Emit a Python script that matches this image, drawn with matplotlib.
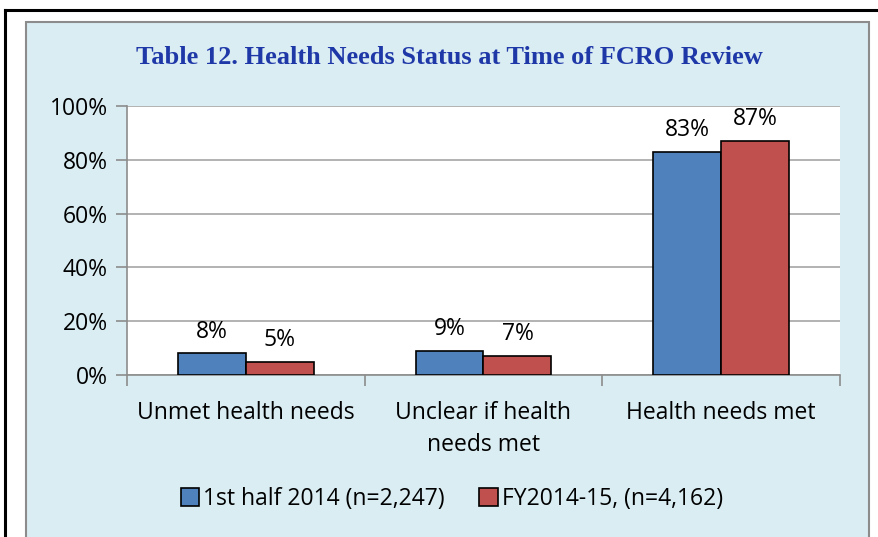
import matplotlib.pyplot as plt
import numpy as np
from matplotlib.patches import Rectangle
from matplotlib.lines import Line2D

# data
categories = ['Unmet health needs', 'Unclear if health\nneeds met', 'Health needs met']
series_names = ['1st half 2014 (n=2,247)', 'FY2014-15, (n=4,162)']
first_half = [8, 9, 83]
fy_2014_15 = [5, 7, 87]
colors = ['#4F81BD', '#C0504D']

W, H = 879, 537
fig = plt.figure(figsize=(W / 100, H / 100), dpi=100)
fig.patch.set_facecolor('white')

# outer black frame (left + top) and light blue chart panel
fig.add_artist(Line2D([5 / W, 5 / W], [0, 1 - 10 / H], color='black', lw=2.2, zorder=-2))
fig.add_artist(Line2D([5 / W, 878 / W], [1 - 10 / H, 1 - 10 / H], color='black', lw=2.2, zorder=-2))
fig.add_artist(Rectangle((26 / W, -0.01), (869 - 26) / W, 1 - 22 / H + 0.01,
                         facecolor='#DAEDF3', edgecolor='#8C8C8C', lw=1.5, zorder=-1))

ax = fig.add_axes([127 / W, 1 - 375 / H, (840 - 127) / W, (375 - 106) / H])
ax.set_facecolor('white')

x = np.arange(len(categories))
bw = 0.286
b1 = ax.bar(x - bw / 2, first_half, bw, color=colors[0], edgecolor='black', lw=1.2,
            label=series_names[0], zorder=3)
b2 = ax.bar(x + bw / 2, fy_2014_15, bw, color=colors[1], edgecolor='black', lw=1.2,
            label=series_names[1], zorder=3)

font = 'Open Sans'
fs = 16.5
for bars in (b1, b2):
    for b in bars:
        ax.annotate('%d%%' % b.get_height(), (b.get_x() + b.get_width() / 2, b.get_height()),
                    xytext=(0, 7), textcoords='offset points', ha='center', va='bottom',
                    fontsize=fs, family=font)

ax.set_ylim(0, 100)
ax.set_xlim(-0.5, 2.5)
ax.set_yticks(range(0, 101, 20))
ax.set_yticklabels(['%d%%' % v for v in range(0, 101, 20)], fontsize=fs, family=font)
ax.yaxis.grid(True, color='#A6A6A6', lw=1.2, zorder=0)
ax.set_axisbelow(True)

ax.set_xticks([-0.5, 0.5, 1.5, 2.5])
ax.set_xticklabels([])
ax.set_xticks(x, minor=True)
ax.set_xticklabels(categories, minor=True, fontsize=fs, family=font, linespacing=1.45)
ax.tick_params(axis='x', which='minor', length=0, pad=19)
ax.tick_params(axis='x', which='major', length=8, color='#8C8C8C', width=1.2)
ax.tick_params(axis='y', length=8, color='#8C8C8C', width=1.2, pad=6)

for s in ['top', 'right']:
    ax.spines[s].set_visible(False)
for s in ['left', 'bottom']:
    ax.spines[s].set_color('#8C8C8C')
    ax.spines[s].set_linewidth(1.2)

fig.text(449 / W, 1 - 58 / H, 'Table 12. Health Needs Status at Time of FCRO Review',
         ha='center', va='center', fontsize=19, fontweight='bold',
         family='Liberation Serif', color='#1F38A8')

leg = fig.legend(loc='center', bbox_to_anchor=(452 / W, 1 - 499 / H), ncol=2,
                 frameon=False, prop={'family': font, 'size': fs},
                 handlelength=0.8, handleheight=0.8, handletextpad=0.2, columnspacing=1.5)

fig.savefig('out.png', dpi=100)
